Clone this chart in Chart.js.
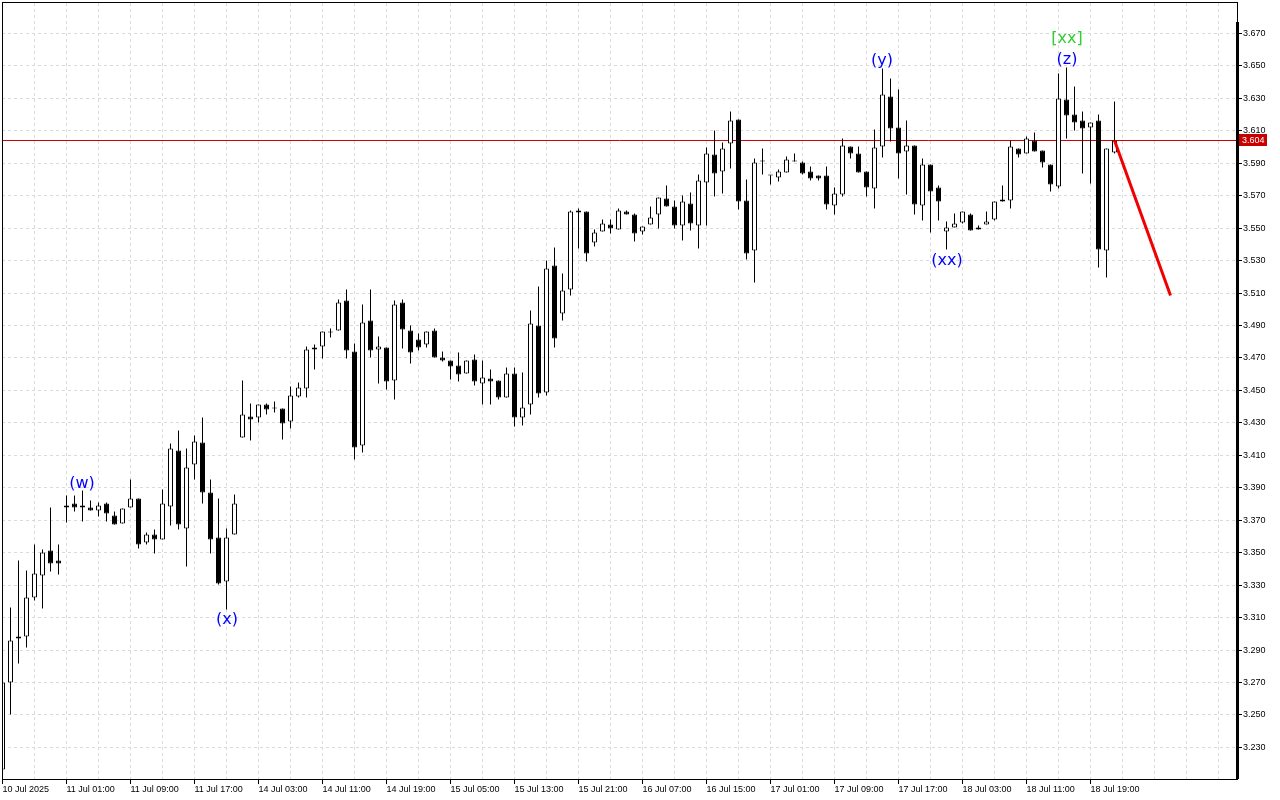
<!DOCTYPE html>
<html>
<head>
<meta charset="utf-8">
<script src="https://cdn.jsdelivr.net/npm/chart.js@4.4.1/dist/chart.umd.min.js"></script>
<style>
html,body{margin:0;padding:0;background:#ffffff;}
canvas{display:block;}
</style>
</head>
<body>
<canvas id="c" width="1280" height="800"></canvas>
<script>
// ---- data (H1 candles, index = bar number) ----
const opens = [
3.2164,3.2700,3.2971,3.2983,3.3224,3.3359,3.3513,3.3452,3.3778,3.3803,
3.3778,3.3778,3.3760,3.3803,3.3729,3.3680,3.3778,3.3834,3.3563,3.3612,
3.3581,3.3785,3.4130,3.3649,3.4043,3.4179,3.3871,3.3594,3.3322,3.3612,
3.4210,3.4339,3.4333,3.4413,3.4390,3.4389,3.4308,3.4463,3.4512,3.4752,
3.4771,3.4856,3.4869,3.5054,3.4740,3.4160,3.4931,3.4752,3.4765,3.4561,
3.5042,3.4869,3.4814,3.4783,3.4869,3.4703,3.4684,3.4653,3.4604,3.4690,
3.4543,3.4573,3.4561,3.4456,3.4604,3.4333,3.4413,3.4900,3.4487,3.5270,
3.4974,3.5122,3.5609,3.5603,3.5412,3.5479,3.5523,3.5492,3.5603,3.5584,
3.5479,3.5523,3.5584,3.5683,3.5633,3.5516,3.5652,3.5516,3.5781,3.5954,
3.5849,3.6022,3.6170,3.5670,3.5362,3.5910,3.5825,3.5812,3.5843,3.5911,
3.5905,3.5849,3.5825,3.5825,3.5640,3.5707,3.6003,3.5960,3.5849,3.5744,
3.6003,3.6311,3.6120,3.5972,3.6009,3.5640,3.5892,3.5751,3.5479,3.5504,
3.5535,3.5584,3.5492,3.5523,3.5553,3.5664,3.5670,3.5991,3.5960,3.6040,
3.5979,3.5892,3.5757,3.6293,3.6200,3.6163,3.6120,3.6163,3.5362,3.5966];

const highs = [
3.2712,3.3162,3.3452,3.3390,3.3550,3.3520,3.3778,3.3550,3.3852,3.3852,
3.3883,3.3822,3.3809,3.3809,3.3754,3.3772,3.3951,3.3834,3.3624,3.3643,
3.3889,3.4173,3.4253,3.4142,3.4222,3.4333,3.3951,3.3834,3.3649,3.3859,
3.4561,3.4419,3.4413,3.4419,3.4432,3.4389,3.4524,3.4549,3.4771,3.4783,
3.4863,3.4882,3.5060,3.5122,3.4789,3.5029,3.5122,3.4832,3.4765,3.5054,
3.5060,3.4900,3.4851,3.4863,3.4882,3.4740,3.4684,3.4734,3.4684,3.4721,
3.4684,3.4629,3.4561,3.4641,3.4641,3.4610,3.4993,3.5140,3.5301,3.5381,
3.5220,3.5609,3.5621,3.5603,3.5492,3.5553,3.5553,3.5621,3.5609,3.5590,
3.5510,3.5633,3.5689,3.5763,3.5670,3.5701,3.5720,3.5831,3.5997,3.6102,
3.6028,3.6219,3.6170,3.5800,3.5929,3.5991,3.5826,3.5861,3.5942,3.5960,
3.5911,3.5880,3.5825,3.5880,3.5751,3.6053,3.6003,3.6003,3.5849,3.6108,
3.6484,3.6422,3.6354,3.6163,3.6009,3.5929,3.5892,3.5763,3.5541,3.5590,
3.5603,3.5590,3.5516,3.5603,3.5664,3.5763,3.6040,3.5991,3.6065,3.6089,
3.5979,3.5892,3.6453,3.6490,3.6373,3.6219,3.6151,3.6200,3.5991,3.6281];

const lows = [
3.2121,3.2503,3.2817,3.2916,3.3205,3.3156,3.3384,3.3366,3.3686,3.3754,
3.3692,3.3760,3.3723,3.3692,3.3674,3.3680,3.3778,3.3526,3.3550,3.3495,
3.3581,3.3667,3.3643,3.3415,3.3951,3.3803,3.3495,3.3304,3.3150,3.3612,
3.4210,3.4191,3.4302,3.4352,3.4364,3.4197,3.4265,3.4456,3.4456,3.4629,
3.4697,3.4826,3.4869,3.4697,3.4074,3.4117,3.4703,3.4543,3.4506,3.4444,
3.4758,3.4666,3.4746,3.4765,3.4703,3.4678,3.4567,3.4555,3.4604,3.4530,
3.4413,3.4413,3.4444,3.4456,3.4278,3.4284,3.4352,3.4456,3.4469,3.4765,
3.4931,3.5085,3.5375,3.5295,3.5387,3.5479,3.5467,3.5492,3.5584,3.5418,
3.5461,3.5523,3.5498,3.5633,3.5498,3.5424,3.5486,3.5375,3.5516,3.5695,
3.5714,3.5868,3.5615,3.5307,3.5165,3.5831,3.5769,3.5788,3.5843,3.5910,
3.5831,3.5794,3.5794,3.5615,3.5584,3.5695,3.5929,3.5843,3.5695,3.5621,
3.5935,3.6034,3.5806,3.5707,3.5584,3.5547,3.5473,3.5547,3.5368,3.5504,
3.5529,3.5486,3.5492,3.5523,3.5547,3.5664,3.5621,3.5935,3.5960,3.5972,
3.5874,3.5726,3.5744,3.6053,3.6102,3.5837,3.5775,3.5257,3.5196,3.5960];

const closes = [
3.2700,3.2959,3.2983,3.3224,3.3372,3.3501,3.3433,3.3433,3.3791,3.3778,
3.3791,3.3760,3.3791,3.3741,3.3674,3.3772,3.3834,3.3550,3.3612,3.3581,
3.3803,3.4142,3.3674,3.4025,3.4185,3.3871,3.3581,3.3310,3.3594,3.3803,
3.4352,3.4321,3.4413,3.4382,3.4388,3.4296,3.4469,3.4518,3.4752,3.4765,
3.4863,3.4858,3.5042,3.4746,3.4148,3.4919,3.4746,3.4771,3.4555,3.5029,
3.4875,3.4734,3.4765,3.4863,3.4703,3.4684,3.4647,3.4598,3.4684,3.4555,
3.4580,3.4555,3.4456,3.4604,3.4333,3.4395,3.4912,3.4481,3.5251,3.4820,
3.5116,3.5603,3.5597,3.5344,3.5473,3.5529,3.5498,3.5609,3.5584,3.5467,
3.5510,3.5566,3.5689,3.5633,3.5516,3.5664,3.5529,3.5794,3.5960,3.5837,
3.5991,3.6163,3.5664,3.5344,3.5905,3.5912,3.5824,3.5849,3.5923,3.5912,
3.5837,3.5806,3.5806,3.5646,3.5714,3.6009,3.5960,3.5843,3.5751,3.5997,
3.6324,3.6114,3.5960,3.6009,3.5646,3.5892,3.5726,3.5664,3.5504,3.5529,
3.5603,3.5486,3.5504,3.5541,3.5664,3.5677,3.6003,3.5954,3.6053,3.5972,
3.5905,3.5769,3.6299,3.6194,3.6151,3.6114,3.6151,3.5368,3.5991,3.6040];

const xTickLabels = ['10 Jul 2025','11 Jul 01:00','11 Jul 09:00','11 Jul 17:00','14 Jul 03:00',
  '14 Jul 11:00','14 Jul 19:00','15 Jul 05:00','15 Jul 13:00','15 Jul 21:00','16 Jul 07:00',
  '16 Jul 15:00','17 Jul 01:00','17 Jul 09:00','17 Jul 17:00','18 Jul 03:00','18 Jul 11:00','18 Jul 19:00'];
const xLabelEvery = 8;   // bars between time labels
const xGridEvery = 4;    // bars between vertical grid lines

const yTickValues = [3.230,3.250,3.270,3.290,3.310,3.330,3.350,3.370,3.390,3.410,3.430,3.450,
  3.470,3.490,3.510,3.530,3.550,3.570,3.590,3.610,3.630,3.650,3.670];

const currentPrice = 3.604;
const forecastBars = [139, 146];
const forecastValues = [3.604, 3.5085];

const waveLabels = ['(w)','(x)','(y)','(xx)','(z)','[xx]'];
const waveBars   = [10, 28, 110, 118, 133, 133];

// ---- styles (kept apart from data) ----
const waveStyle = [
  {side:'high', level:0, color:'#0000ff'},
  {side:'low',  level:0, color:'#0000ff'},
  {side:'high', level:0, color:'#0000ff'},
  {side:'low',  level:0, color:'#0000ff'},
  {side:'high', level:0, color:'#0000ff'},
  {side:'high', level:1, color:'#32cd32'}
];
const AXIS_FONT = {family:'Liberation Sans, Arial, sans-serif', size: 9};
const GRID_COLOR = '#dadada';
const RED = '#c80000';

const xMin = -0.0625, xMax = 154.3125;
const yMin = 3.21052, yMax = 3.68873;

const gridSteps = [];
for (let v = 0; v <= xMax; v += xGridEvery) gridSteps.push(v);
const isLabelTick = v => v % xLabelEvery === 0 && (v / xLabelEvery) < xTickLabels.length;

const wickData = lows.map((l, i) => ({x: i, y: [l, highs[i]]}));
const bodyData = opens.map((o, i) => ({x: i, y: [o, closes[i]]}));
const bodyFill = opens.map((o, i) => closes[i] >= o ? '#ffffff' : '#000000');

const decor = {
  id: 'decor',
  afterDatasetsDraw(chart) {
    const {ctx, scales: {x, y}} = chart;
    ctx.save();
    ctx.font = '16px "DejaVu Sans", sans-serif';
    ctx.textAlign = 'center';
    ctx.textBaseline = 'alphabetic';
    waveLabels.forEach((t, i) => {
      const b = waveBars[i], st = waveStyle[i];
      const px = Math.round(x.getPixelForValue(b));
      let py;
      if (st.side === 'high') py = y.getPixelForValue(highs[b]) - 3 - st.level * 21;
      else py = y.getPixelForValue(lows[b]) + 15;
      ctx.fillStyle = st.color;
      ctx.fillText(t, px, py);
    });
    ctx.restore();
  },
  afterDraw(chart) {
    const {ctx, chartArea: ca, scales: {y}} = chart;
    ctx.save();
    ctx.strokeStyle = '#000';
    ctx.lineWidth = 1;
    ctx.strokeRect(ca.left + 0.5, ca.top - 0.5, ca.right - ca.left, ca.bottom - ca.top + 1);
    ctx.lineWidth = 3;
    ctx.beginPath();
    ctx.moveTo(ca.right + 0.5, ca.top + 19);
    ctx.lineTo(ca.right + 0.5, ca.bottom);
    ctx.stroke();
    // current price tag
    const py = Math.round(y.getPixelForValue(currentPrice));
    ctx.fillStyle = RED;
    ctx.fillRect(ca.right + 2, py - 6, 28, 12);
    ctx.fillStyle = '#ffffff';
    ctx.font = '9px "Liberation Sans", Arial, sans-serif';
    ctx.textBaseline = 'middle';
    ctx.textAlign = 'left';
    ctx.fillText(currentPrice.toFixed(3), ca.right + 5, py + 0.5);
    ctx.restore();
  }
};

new Chart(document.getElementById('c'), {
  type: 'bar',
  data: {
    datasets: [
      {
        type: 'line', order: 0,
        data: forecastBars.map((b, i) => ({x: b, y: forecastValues[i]})),
        borderColor: '#f00000', borderWidth: 3, pointRadius: 0, tension: 0, fill: false
      },
      {
        type: 'bar', order: 1, grouped: false,
        data: bodyData,
        backgroundColor: bodyFill, borderColor: '#000000', borderWidth: 1,
        borderSkipped: false, barThickness: 5, minBarLength: 1, inflateAmount: 0
      },
      {
        type: 'bar', order: 2, grouped: false,
        data: wickData,
        backgroundColor: '#000000', borderWidth: 0,
        barThickness: 1, minBarLength: 1, inflateAmount: 0
      },
      {
        type: 'line', order: 3,
        data: [{x: xMin, y: currentPrice}, {x: xMax, y: currentPrice}],
        borderColor: RED, borderWidth: 1, pointRadius: 0, fill: false
      }
    ]
  },
  options: {
    responsive: false,
    animation: false,
    devicePixelRatio: 1,
    events: [],
    layout: {padding: {left: 2, top: 3, right: 0, bottom: 0}},
    plugins: {legend: {display: false}, tooltip: {enabled: false}},
    scales: {
      x: {
        type: 'linear', position: 'bottom', min: xMin, max: xMax, offset: false,
        afterBuildTicks: s => { s.ticks = gridSteps.map(v => ({value: v})); },
        afterFit: s => { s.height = 21; s.paddingLeft = 0; s.paddingRight = 0; },
        ticks: {
          autoSkip: false, maxRotation: 0, minRotation: 0, align: 'start', padding: 0,
          color: '#000', font: AXIS_FONT,
          callback: v => isLabelTick(v) ? xTickLabels[v / xLabelEvery] : ''
        },
        grid: {
          color: GRID_COLOR, lineWidth: 1, offset: false, drawTicks: true, tickLength: 5, tickWidth: 1,
          tickBorderDash: [],
          tickColor: c => (c.tick && isLabelTick(c.tick.value)) ? '#000' : 'rgba(0,0,0,0)'
        },
        border: {display: false, dash: [3, 3]}
      },
      y: {
        type: 'linear', position: 'right', min: yMin, max: yMax, beginAtZero: false,
        afterBuildTicks: s => { s.ticks = yTickValues.map(v => ({value: v})); },
        afterFit: s => { s.width = 43; s.paddingTop = 0; s.paddingBottom = 0; },
        ticks: {color: '#000', padding: 1, font: AXIS_FONT, callback: v => Number(v).toFixed(3)},
        grid: {color: GRID_COLOR, lineWidth: 1, drawTicks: true, tickLength: 5, tickWidth: 1,
               tickColor: '#000', tickBorderDash: []},
        border: {display: false, dash: [3, 3]}
      }
    }
  },
  plugins: [decor]
});
</script>
</body>
</html>
